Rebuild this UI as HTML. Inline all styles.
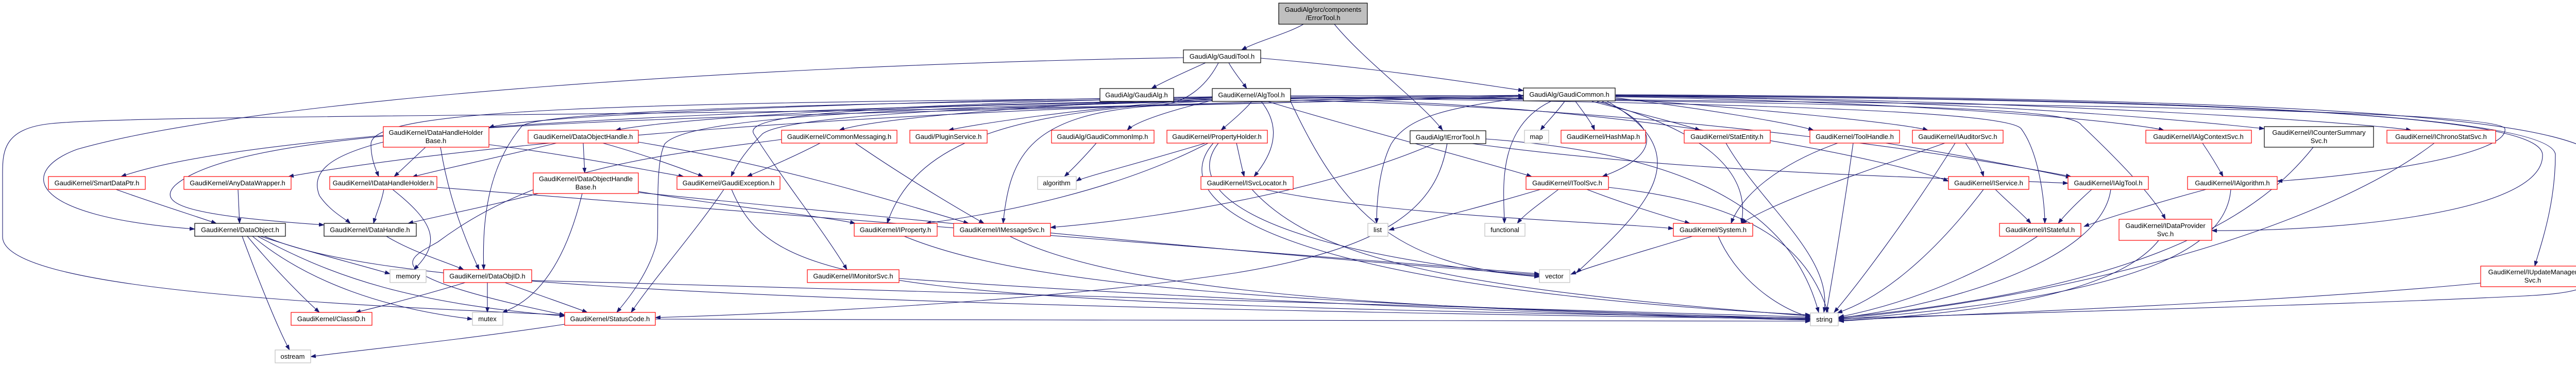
<!DOCTYPE html>
<html><head><meta charset="utf-8"><style>
html,body{margin:0;padding:0;background:#fff;}
svg{display:block;}
text{font-family:"Liberation Sans",sans-serif;font-size:13px;fill:#000;text-anchor:middle;}
.e path{fill:none;stroke:#191970;stroke-width:1.1;}
.r{fill:#fff;stroke:#ff0000;stroke-width:1.2;}
.b{fill:#fff;stroke:#000;stroke-width:1.2;}
.g{fill:#fff;stroke:#bfbfbf;stroke-width:1.2;}
</style></head><body>
<svg width="5064" height="715" viewBox="0 0 5064 715" xmlns="http://www.w3.org/2000/svg">
<defs><marker id="a" markerWidth="11" markerHeight="8" refX="10" refY="4" orient="auto" markerUnits="userSpaceOnUse"><path d="M0,0 L11,4 L0,8 z" fill="#191970"/></marker></defs>
<g class="e" marker-end="url(#a)">
<path d="M2530,47 C2500,65 2440,80 2410,97" marker-end="url(#a)"/>
<path d="M2590,47 C2650,120 2760,200 2800,253" marker-end="url(#a)"/>
<path d="M2340,122 C2300,140 2260,158 2235,172" marker-end="url(#a)"/>
<path d="M2385,122 C2395,140 2410,158 2420,172" marker-end="url(#a)"/>
<path d="M2447,113 C2700,135 2880,165 2957,176" marker-end="url(#a)"/>
<path d="M2297,112 C1500,125 500,190 150,290 C40,330 40,420 378,445" marker-end="url(#a)"/>
<path d="M2365,122 C2340,170 2300,200 2250,205 C2000,220 1960,300 1947,434" marker-end="url(#a)"/>
<path d="M2430,197 C2410,220 2385,240 2370,253" marker-end="url(#a)"/>
<path d="M2448,197 C2490,250 2470,300 2434,343" marker-end="url(#a)"/>
<path d="M2353,190 C2000,205 1700,230 1629,253" marker-end="url(#a)"/>
<path d="M2353,192 C2100,210 1900,240 1841,253" marker-end="url(#a)"/>
<path d="M2353,195 C2250,220 2200,240 2188,253" marker-end="url(#a)"/>
<path d="M2505,186 L2957,186" marker-end="url(#a)"/>
<path d="M2505,190 L2957,190" marker-end="url(#a)"/>
<path d="M2353,188 C1500,200 1000,230 949,248" marker-end="url(#a)"/>
<path d="M2353,189 C1800,200 1300,230 1195,253" marker-end="url(#a)"/>
<path d="M2353,190 C1200,200 720,210 720,280 C720,310 730,330 735,343" marker-end="url(#a)"/>
<path d="M2353,196 C2000,215 1780,260 1722,434" marker-end="url(#a)"/>
<path d="M2353,196 C1700,205 1440,220 1463,260 C1520,350 1600,450 1644,524" marker-end="url(#a)"/>
<path d="M2353,192 C1500,200 1040,220 1013,245 C950,320 935,420 939,524" marker-end="url(#a)"/>
<path d="M2353,196 C1800,210 1520,230 1480,260 C1440,300 1425,330 1419,343" marker-end="url(#a)"/>
<path d="M2353,196 C1700,210 1330,230 1290,280 C1270,320 1280,440 1275,470 C1260,530 1220,580 1197,607" marker-end="url(#a)"/>
<path d="M2957,190 C2800,210 2730,230 2700,280 C2675,330 2672,400 2672,434" marker-end="url(#a)"/>
<path d="M2460,197 C2600,240 2900,320 2973,343" marker-end="url(#a)"/>
<path d="M2505,192 C3200,200 3700,320 3782,352" marker-end="url(#a)"/>
<path d="M2505,195 C3300,210 3900,320 4020,343" marker-end="url(#a)"/>
<path d="M2505,190 C3500,200 3900,220 3923,250 C3960,300 3969,400 3969,434" marker-end="url(#a)"/>
<path d="M2505,188 C3700,200 4020,210 4040,243 C4100,300 4180,380 4203,426" marker-end="url(#a)"/>
<path d="M2505,188 C4000,200 4850,215 4862,250 C4870,300 4600,340 4420,352" marker-end="url(#a)"/>
<path d="M2505,197 C2600,400 2700,520 2988,536" marker-end="url(#a)"/>
<path d="M3037,197 C3020,220 3000,240 2990,253" marker-end="url(#a)"/>
<path d="M3058,197 C3075,220 3090,240 3095,253" marker-end="url(#a)"/>
<path d="M3090,197 C3180,220 3260,240 3300,253" marker-end="url(#a)"/>
<path d="M3110,197 C3220,240 3230,300 3110,343" marker-end="url(#a)"/>
<path d="M3010,197 C2900,250 2920,380 2920,434" marker-end="url(#a)"/>
<path d="M3136,190 C3300,210 3480,240 3520,253" marker-end="url(#a)"/>
<path d="M3136,192 C3400,210 3700,240 3742,253" marker-end="url(#a)"/>
<path d="M3136,188 C3800,200 4150,240 4200,253" marker-end="url(#a)"/>
<path d="M3136,187 C3900,195 4300,240 4395,250" marker-end="url(#a)"/>
<path d="M3136,186 C4000,195 4600,240 4680,253" marker-end="url(#a)"/>
<path d="M3136,185 C4200,190 4950,220 4960,300 C4960,400 4930,480 4920,517" marker-end="url(#a)"/>
<path d="M3136,184 C4500,190 4950,230 5040,300 C5055,330 5055,480 5050,520 C5040,560 5000,570 4900,575 C4500,595 3800,610 3569,620" marker-end="url(#a)"/>
<path d="M3136,186 C4600,195 4930,240 4935,300 C4940,420 4500,450 4293,448" marker-end="url(#a)"/>
<path d="M3120,197 C3300,300 3200,400 3060,530" marker-end="url(#a)"/>
<path d="M3100,197 C3300,250 3400,330 3380,434" marker-end="url(#a)"/>
<path d="M4275,278 C4290,300 4305,325 4315,343" marker-end="url(#a)"/>
<path d="M4490,286 C4400,400 4200,560 3569,617" marker-end="url(#a)"/>
<path d="M4725,278 C4500,450 4000,580 3569,619" marker-end="url(#a)"/>
<path d="M4815,550 C4400,590 3800,610 3569,623" marker-end="url(#a)"/>
<path d="M4330,368 C4320,500 4100,580 3569,621" marker-end="url(#a)"/>
<path d="M4282,368 C4200,390 4100,420 4045,440" marker-end="url(#a)"/>
<path d="M4190,467 C4100,580 3800,610 3569,624" marker-end="url(#a)"/>
<path d="M4060,368 C4030,395 4010,415 3995,434" marker-end="url(#a)"/>
<path d="M4097,368 C4080,500 3800,590 3569,618" marker-end="url(#a)"/>
<path d="M3873,368 C3900,395 3925,415 3942,434" marker-end="url(#a)"/>
<path d="M3850,368 C3750,500 3650,580 3566,608" marker-end="url(#a)"/>
<path d="M3955,459 C3800,560 3650,600 3569,616" marker-end="url(#a)"/>
<path d="M3815,278 C3830,300 3845,325 3850,343" marker-end="url(#a)"/>
<path d="M3795,278 C3700,430 3600,560 3560,607" marker-end="url(#a)"/>
<path d="M3775,278 C3600,340 3450,390 3380,434" marker-end="url(#a)"/>
<path d="M3597,278 C3580,400 3560,520 3545,607" marker-end="url(#a)"/>
<path d="M3660,278 C3800,300 3950,330 4020,345" marker-end="url(#a)"/>
<path d="M3567,278 C3450,320 3380,380 3360,434" marker-end="url(#a)"/>
<path d="M3350,278 C3420,400 3560,500 3540,607" marker-end="url(#a)"/>
<path d="M2990,368 C2850,410 2720,440 2696,447" marker-end="url(#a)"/>
<path d="M3025,368 C2990,395 2960,415 2945,434" marker-end="url(#a)"/>
<path d="M3080,368 C3150,395 3230,420 3280,434" marker-end="url(#a)"/>
<path d="M3122,364 C3350,390 3500,450 3548,607" marker-end="url(#a)"/>
<path d="M3285,459 C3150,500 3080,520 3049,533" marker-end="url(#a)"/>
<path d="M3335,459 C3370,540 3450,600 3514,616" marker-end="url(#a)"/>
<path d="M2786,278 C2600,360 2300,420 2039,442" marker-end="url(#a)"/>
<path d="M2809,278 C2790,400 2700,480 2400,530 C2000,590 1500,610 1272,617" marker-end="url(#a)"/>
<path d="M2850,278 C3300,340 3800,345 4014,356" marker-end="url(#a)"/>
<path d="M2884,270 C3300,300 3480,420 3530,607" marker-end="url(#a)"/>
<path d="M2400,278 C2405,300 2410,325 2415,343" marker-end="url(#a)"/>
<path d="M2340,278 C2200,320 2100,345 2089,352" marker-end="url(#a)"/>
<path d="M2345,278 C2150,380 1900,420 1797,434" marker-end="url(#a)"/>
<path d="M2365,278 C2300,360 2400,480 2988,538" marker-end="url(#a)"/>
<path d="M2355,278 C2250,400 2500,560 3514,612" marker-end="url(#a)"/>
<path d="M2430,368 C2550,500 2800,560 3514,614" marker-end="url(#a)"/>
<path d="M2454,368 C2700,420 3100,430 3248,444" marker-end="url(#a)"/>
<path d="M2128,278 C2100,310 2080,330 2066,343" marker-end="url(#a)"/>
<path d="M1592,278 C1530,310 1480,330 1450,343" marker-end="url(#a)"/>
<path d="M1660,278 C1750,340 1850,400 1910,434" marker-end="url(#a)"/>
<path d="M1517,271 C1300,300 1050,320 850,470 C800,500 700,530 1096,612" marker-end="url(#a)"/>
<path d="M1132,278 C1133,300 1134,320 1135,336" marker-end="url(#a)"/>
<path d="M1170,278 C1250,300 1330,330 1365,343" marker-end="url(#a)"/>
<path d="M1080,278 C950,310 850,330 800,344" marker-end="url(#a)"/>
<path d="M1239,276 C1500,320 1700,380 1880,434" marker-end="url(#a)"/>
<path d="M1045,376 C950,400 850,420 792,434" marker-end="url(#a)"/>
<path d="M1130,376 C1100,500 1050,580 975,607" marker-end="url(#a)"/>
<path d="M1239,372 C1400,400 1600,420 1660,434" marker-end="url(#a)"/>
<path d="M1239,374 C1800,430 2500,500 2988,534" marker-end="url(#a)"/>
<path d="M826,286 C800,310 780,330 765,343" marker-end="url(#a)"/>
<path d="M744,276 C650,300 600,330 620,380 C640,410 670,425 680,434" marker-end="url(#a)"/>
<path d="M855,286 C870,380 900,460 930,524" marker-end="url(#a)"/>
<path d="M949,281 C1100,300 1250,330 1327,343" marker-end="url(#a)"/>
<path d="M745,368 C740,395 730,415 725,434" marker-end="url(#a)"/>
<path d="M762,368 C840,430 860,470 803,524" marker-end="url(#a)"/>
<path d="M848,364 C1100,380 1500,420 2988,532" marker-end="url(#a)"/>
<path d="M750,459 C800,490 870,510 900,524" marker-end="url(#a)"/>
<path d="M505,459 C600,490 700,515 757,532" marker-end="url(#a)"/>
<path d="M480,459 C530,520 590,580 620,607" marker-end="url(#a)"/>
<path d="M470,459 C500,540 540,640 562,680" marker-end="url(#a)"/>
<path d="M490,459 C600,550 750,600 917,620" marker-end="url(#a)"/>
<path d="M500,459 C650,540 800,590 1096,614" marker-end="url(#a)"/>
<path d="M513,459 C700,540 1200,590 3514,620" marker-end="url(#a)"/>
<path d="M903,549 C800,580 720,600 690,607" marker-end="url(#a)"/>
<path d="M946,549 L946,607" marker-end="url(#a)"/>
<path d="M980,549 C1050,575 1110,595 1140,607" marker-end="url(#a)"/>
<path d="M1032,545 C2000,570 3000,600 3514,616" marker-end="url(#a)"/>
<path d="M225,368 C300,395 380,420 420,434" marker-end="url(#a)"/>
<path d="M462,368 L465,434" marker-end="url(#a)"/>
<path d="M2957,185 C1500,200 500,250 235,343" marker-end="url(#a)"/>
<path d="M2957,186 C1500,210 800,300 560,343" marker-end="url(#a)"/>
<path d="M2957,187 C1500,230 500,220 340,360 C300,400 380,420 629,437" marker-end="url(#a)"/>
<path d="M2957,187 C1500,230 300,220 100,240 C0,250 5,300 5,350 L5,460 C5,560 600,590 1096,612" marker-end="url(#a)"/>
<path d="M1405,368 C1350,450 1270,540 1225,607" marker-end="url(#a)"/>
<path d="M1420,368 C1500,560 1700,590 3514,618" marker-end="url(#a)"/>
<path d="M1755,459 C2000,560 2500,590 3514,619" marker-end="url(#a)"/>
<path d="M1960,459 C2200,580 2800,600 3514,621" marker-end="url(#a)"/>
<path d="M1745,541 C2300,580 3000,610 3514,622" marker-end="url(#a)"/>
<path d="M1096,630 C900,660 700,680 603,693" marker-end="url(#a)"/>
<path d="M1272,620 C2000,622 3000,623 3514,624" marker-end="url(#a)"/>
</g>
<g>
<rect x="2482" y="6" width="172" height="41" fill="#bfbfbf" stroke="#000" stroke-width="1.2"/>
<text x="2568" y="23">GaudiAlg/src/components</text><text x="2568" y="39">/ErrorTool.h</text>
<rect class="b" x="2297" y="97" width="150" height="25"/><text x="2372" y="114">GaudiAlg/GaudiTool.h</text>
<rect class="b" x="2135" y="172" width="143" height="25"/><text x="2206" y="189">GaudiAlg/GaudiAlg.h</text>
<rect class="b" x="2353" y="172" width="152" height="25"/><text x="2429" y="189">GaudiKernel/AlgTool.h</text>
<rect class="b" x="2957" y="171" width="178" height="25"/><text x="3046" y="188">GaudiAlg/GaudiCommon.h</text>

<rect class="r" x="744" y="246" width="205" height="40"/><text x="846" y="262">GaudiKernel/DataHandleHolder</text><text x="846" y="278">Base.h</text>
<rect class="r" x="1025" y="253" width="214" height="25"/><text x="1132" y="270">GaudiKernel/DataObjectHandle.h</text>
<rect class="r" x="1517" y="253" width="224" height="25"/><text x="1629" y="270">GaudiKernel/CommonMessaging.h</text>
<rect class="r" x="1766" y="253" width="150" height="25"/><text x="1841" y="270">Gaudi/PluginService.h</text>
<rect class="r" x="2041" y="253" width="199" height="25"/><text x="2140" y="270">GaudiAlg/GaudiCommonImp.h</text>
<rect class="r" x="2265" y="253" width="195" height="25"/><text x="2362" y="270">GaudiKernel/PropertyHolder.h</text>
<rect class="b" x="2737" y="254" width="147" height="25"/><text x="2810" y="271">GaudiAlg/IErrorTool.h</text>
<rect class="g" x="2959" y="253" width="47" height="25"/><text x="2982" y="270">map</text>
<rect class="r" x="3030" y="253" width="164" height="25"/><text x="3112" y="270">GaudiKernel/HashMap.h</text>
<rect class="r" x="3269" y="253" width="167" height="25"/><text x="3352" y="270">GaudiKernel/StatEntity.h</text>
<rect class="r" x="3513" y="253" width="174" height="25"/><text x="3600" y="270">GaudiKernel/ToolHandle.h</text>
<rect class="r" x="3712" y="253" width="176" height="25"/><text x="3800" y="270">GaudiKernel/IAuditorSvc.h</text>
<rect class="r" x="4165" y="253" width="205" height="25"/><text x="4267" y="270">GaudiKernel/IAlgContextSvc.h</text>
<rect class="b" x="4395" y="246" width="212" height="40"/><text x="4501" y="262">GaudiKernel/ICounterSummary</text><text x="4501" y="278">Svc.h</text>
<rect class="r" x="4633" y="253" width="211" height="25"/><text x="4738" y="270">GaudiKernel/IChronoStatSvc.h</text>

<rect class="r" x="94" y="343" width="188" height="25"/><text x="188" y="360">GaudiKernel/SmartDataPtr.h</text>
<rect class="r" x="357" y="343" width="208" height="25"/><text x="461" y="360">GaudiKernel/AnyDataWrapper.h</text>
<rect class="r" x="640" y="343" width="208" height="25"/><text x="744" y="360">GaudiKernel/IDataHandleHolder.h</text>
<rect class="r" x="1035" y="336" width="204" height="40"/><text x="1137" y="352">GaudiKernel/DataObjectHandle</text><text x="1137" y="368">Base.h</text>
<rect class="r" x="1314" y="343" width="200" height="25"/><text x="1414" y="360">GaudiKernel/GaudiException.h</text>
<rect class="g" x="2014" y="343" width="75" height="25"/><text x="2051" y="360">algorithm</text>
<rect class="r" x="2331" y="343" width="179" height="25"/><text x="2420" y="360">GaudiKernel/ISvcLocator.h</text>
<rect class="r" x="2962" y="343" width="160" height="25"/><text x="3042" y="360">GaudiKernel/IToolSvc.h</text>
<rect class="r" x="3782" y="343" width="156" height="25"/><text x="3860" y="360">GaudiKernel/IService.h</text>
<rect class="r" x="4014" y="343" width="156" height="25"/><text x="4092" y="360">GaudiKernel/IAlgTool.h</text>
<rect class="r" x="4246" y="343" width="174" height="25"/><text x="4333" y="360">GaudiKernel/IAlgorithm.h</text>

<rect class="b" x="378" y="434" width="176" height="25"/><text x="466" y="451">GaudiKernel/DataObject.h</text>
<rect class="b" x="629" y="434" width="179" height="25"/><text x="718" y="451">GaudiKernel/DataHandle.h</text>
<rect class="r" x="1658" y="434" width="161" height="25"/><text x="1738" y="451">GaudiKernel/IProperty.h</text>
<rect class="r" x="1851" y="434" width="188" height="25"/><text x="1945" y="451">GaudiKernel/IMessageSvc.h</text>
<rect class="g" x="2655" y="434" width="39" height="25"/><text x="2674" y="451">list</text>
<rect class="g" x="2882" y="434" width="78" height="25"/><text x="2921" y="451">functional</text>
<rect class="r" x="3248" y="434" width="154" height="25"/><text x="3325" y="451">GaudiKernel/System.h</text>
<rect class="r" x="3881" y="434" width="158" height="25"/><text x="3960" y="451">GaudiKernel/IStateful.h</text>
<rect class="r" x="4113" y="426" width="180" height="41"/><text x="4203" y="443">GaudiKernel/IDataProvider</text><text x="4203" y="459">Svc.h</text>

<rect class="g" x="757" y="524" width="70" height="25"/><text x="792" y="541">memory</text>
<rect class="r" x="861" y="524" width="171" height="25"/><text x="946" y="541">GaudiKernel/DataObjID.h</text>
<rect class="r" x="1567" y="524" width="178" height="25"/><text x="1656" y="541">GaudiKernel/IMonitorSvc.h</text>
<rect class="g" x="2988" y="524" width="59" height="25"/><text x="3017" y="541">vector</text>
<rect class="r" x="4815" y="517" width="202" height="40"/><text x="4916" y="533">GaudiKernel/IUpdateManager</text><text x="4916" y="549">Svc.h</text>

<rect class="r" x="565" y="607" width="157" height="25"/><text x="643" y="624">GaudiKernel/ClassID.h</text>
<rect class="g" x="917" y="607" width="59" height="25"/><text x="946" y="624">mutex</text>
<rect class="r" x="1096" y="607" width="176" height="25"/><text x="1184" y="624">GaudiKernel/StatusCode.h</text>
<rect class="g" x="3514" y="608" width="54" height="25"/><text x="3541" y="625">string</text>
<rect class="g" x="534" y="680" width="69" height="25"/><text x="568" y="697">ostream</text>
</g>
</svg>
</body></html>
